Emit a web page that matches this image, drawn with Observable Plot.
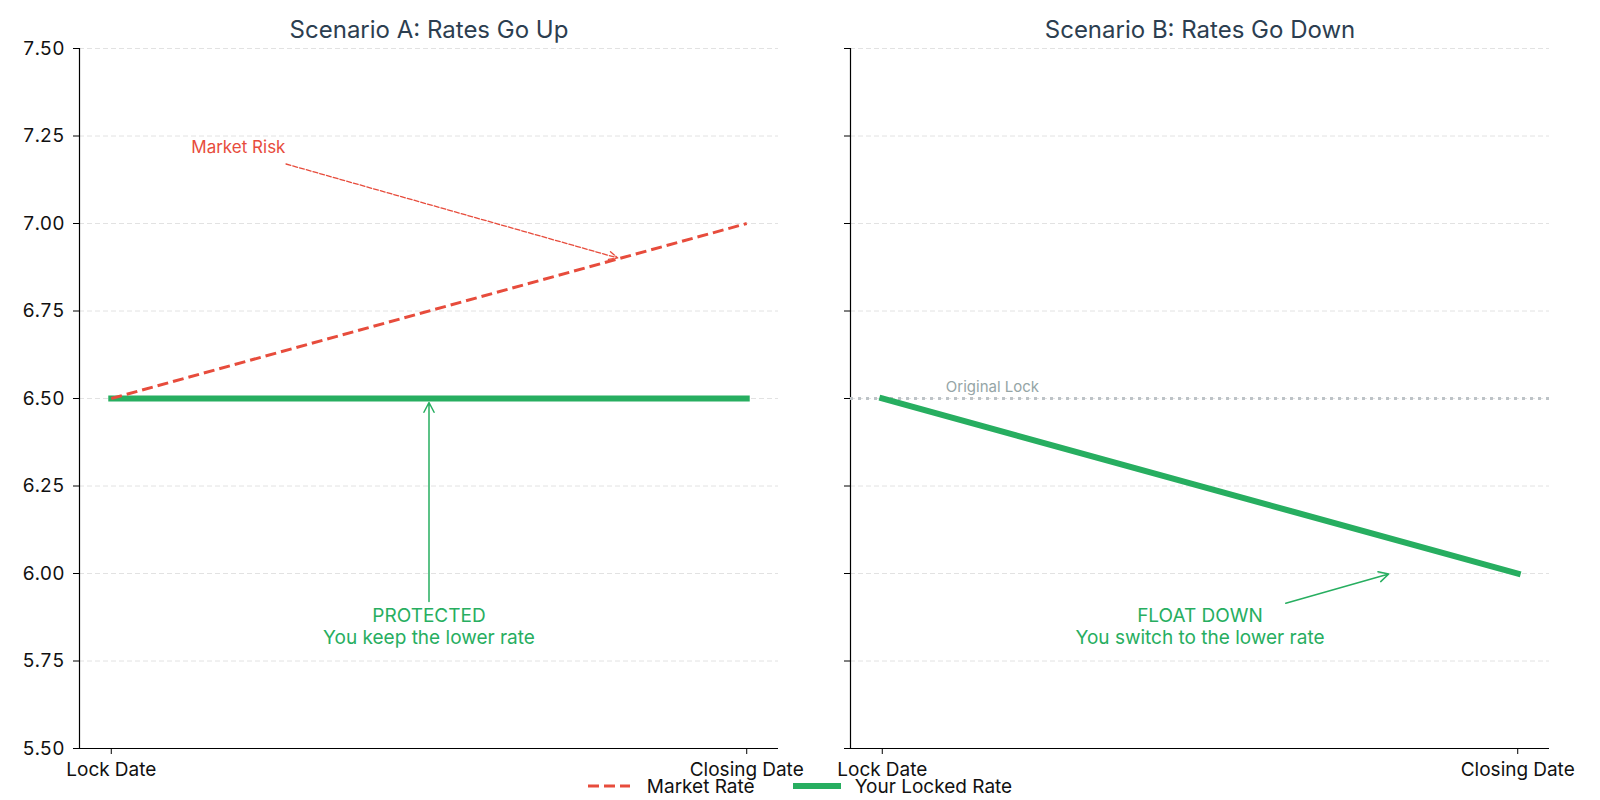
<!DOCTYPE html>
<html>
<head>
<meta charset="utf-8">
<script src="https://cdn.jsdelivr.net/npm/d3@7"></script>
<script src="https://cdn.jsdelivr.net/npm/@observablehq/plot@0.6"></script>
<style>
  html, body { margin: 0; padding: 0; background: #fff; overflow: hidden; }
  #chart { position: relative; width: 1600px; height: 800px; }
  #panels { display: flex; }
  #panels svg { overflow: visible; }
  #legend { position: absolute; left: 0; top: 774px; width: 1600px; height: 24px; line-height: 24px;
            display: flex; justify-content: center; align-items: center;
            font: 19px Inter, Roboto, sans-serif; color: #111; }
  .item { display: flex; align-items: center; }
  .item svg { overflow: visible; display: block; }
</style>
</head>
<body>
<div id="chart"><div id="panels"></div><div id="legend"></div></div>
<script>
// ---- data ----
const stages = ["Lock Date", "Closing Date"];
const stageIndex = [0, 1];
const marketRateUp = [6.5, 7.0];
const lockedRateUp = [6.5, 6.5];
const lockedRateDown = [6.5, 6.0];
const originalLock = [6.5];
const yTicks = [5.5, 5.75, 6.0, 6.25, 6.5, 6.75, 7.0, 7.25, 7.5];
const titles = ["Scenario A: Rates Go Up", "Scenario B: Rates Go Down"];
const seriesNames = ["Market Rate", "Your Locked Rate"];

// annotations (data coordinates: stage index, rate)
const riskLabel = [{x: 0.2, y: 7.217, text: "Market Risk"}];
const riskArrow = [{x1: 0.275, y1: 7.17, x2: 0.8, y2: 6.9}];
const protectLabel = [{x: 0.5, y: 5.85, text: "PROTECTED\nYou keep the lower rate"}];
const protectArrow = [{x1: 0.5, y1: 5.92, x2: 0.5, y2: 6.5}];
const floatLabel = [{x: 0.5, y: 5.85, text: "FLOAT DOWN\nYou switch to the lower rate"}];
const floatArrow = [{x1: 0.635, y1: 5.915, x2: 0.8, y2: 6.0}];
const originalLabel = [{x: 0.1, y: 6.52, text: "Original Lock"}];

// ---- styles ----
const FONT = "Inter, Roboto, 'Noto Sans', sans-serif";
const RED = "#e74c3c", GREEN = "#27ae60", GRAY_TXT = "#95a5a6", GRAY_LINE = "#bdc3c7", TITLE = "#2c3e50";
const xDomain = [stageIndex[0] - 0.05, stageIndex[stageIndex.length - 1] + 0.05];
const yDomain = [yTicks[0], yTicks[yTicks.length - 1]];

const rowsA = stageIndex.map(i => ({i, market: marketRateUp[i], locked: lockedRateUp[i]}));
const rowsB = stageIndex.map(i => ({i, locked: lockedRateDown[i]}));

function frameMarks(showLabels, title) {
  return [
    Plot.gridY(yTicks, {stroke: "#e2e2e2", strokeOpacity: 1, strokeDasharray: "5,3"}),
    Plot.ruleX([xDomain[0]], {stroke: "#000", strokeWidth: 1.2}),
    Plot.ruleY([yDomain[0]], {stroke: "#000", strokeWidth: 1.2}),
    Plot.axisY(yTicks, {tickSize: 6, tickPadding: 9, label: null,
      tickFormat: showLabels ? d3.format(".2f") : () => "", fontSize: 19, fill: "#111", stroke: "#000"}),
    Plot.axisX(stageIndex, {tickSize: 6, tickPadding: 8, label: null,
      tickFormat: i => stages[i], fontSize: 19, fill: "#111", stroke: "#000"}),
    Plot.text([title], {frameAnchor: "top", text: d => d, dy: -11, lineAnchor: "bottom", fontSize: 24, fill: TITLE})
  ];
}

const common = {
  height: 800, marginTop: 48, marginBottom: 52,
  x: {domain: xDomain}, y: {domain: yDomain},
  style: {fontFamily: FONT, fontSize: "19px", background: "transparent", overflow: "visible", color: "#000"}
};

const plotA = Plot.plot({
  ...common, width: 815, marginLeft: 79, marginRight: 37,
  marks: [
    ...frameMarks(true, titles[0]),
    Plot.line(rowsA, {x: "i", y: "locked", stroke: GREEN, strokeWidth: 6, strokeLinecap: "square"}),
    Plot.line(rowsA, {x: "i", y: "market", stroke: RED, strokeWidth: 3, strokeDasharray: "11,5", strokeLinecap: "butt"}),
    Plot.arrow(riskArrow, {x1: "x1", y1: "y1", x2: "x2", y2: "y2", stroke: RED, strokeWidth: 1.3,
      strokeDasharray: "5,2", headLength: 11, headAngle: 50, insetEnd: 2}),
    Plot.text(riskLabel, {x: "x", y: "y", text: "text", fill: RED, fontSize: 17}),
    Plot.arrow(protectArrow, {x1: "x1", y1: "y1", x2: "x2", y2: "y2", stroke: GREEN, strokeWidth: 1.5,
      headLength: 11, headAngle: 55, insetEnd: 4}),
    Plot.text(protectLabel, {x: "x", y: "y", text: "text", fill: GREEN, fontSize: 19, lineHeight: 1.18})
  ]
});

const plotB = Plot.plot({
  ...common, width: 785, marginLeft: 35, marginRight: 51,
  marks: [
    ...frameMarks(false, titles[1]),
    Plot.ruleY(originalLock, {stroke: GRAY_LINE, strokeWidth: 3, strokeDasharray: "3,5"}),
    Plot.text(originalLabel, {x: "x", y: "y", text: "text", fill: GRAY_TXT, fontSize: 15, textAnchor: "start", lineAnchor: "bottom"}),
    Plot.line(rowsB, {x: "i", y: "locked", stroke: GREEN, strokeWidth: 6, strokeLinecap: "square"}),
    Plot.arrow(floatArrow, {x1: "x1", y1: "y1", x2: "x2", y2: "y2", stroke: GREEN, strokeWidth: 1.5,
      headLength: 11, headAngle: 55, insetEnd: 2}),
    Plot.text(floatLabel, {x: "x", y: "y", text: "text", fill: GREEN, fontSize: 19, lineHeight: 1.18})
  ]
});

document.getElementById("panels").append(plotA, plotB);

// ---- legend ----
const legendStyles = [
  {stroke: RED, width: 3, dash: "11,5", cap: "butt"},
  {stroke: GREEN, width: 6, dash: null, cap: "square"}
];
const legend = d3.select("#legend");
seriesNames.forEach((name, k) => {
  const st = legendStyles[k];
  const item = legend.append("div").attr("class", "item").style("margin-left", k ? "41px" : "0px");
  const svg = item.append("svg").attr("width", 42).attr("height", 12);
  svg.append("line").attr("x1", 0).attr("x2", 42).attr("y1", 6).attr("y2", 6)
    .attr("stroke", st.stroke).attr("stroke-width", st.width)
    .attr("stroke-dasharray", st.dash).attr("stroke-linecap", st.cap);
  item.append("span").style("margin-left", "17px").text(name);
});
</script>
</body>
</html>
